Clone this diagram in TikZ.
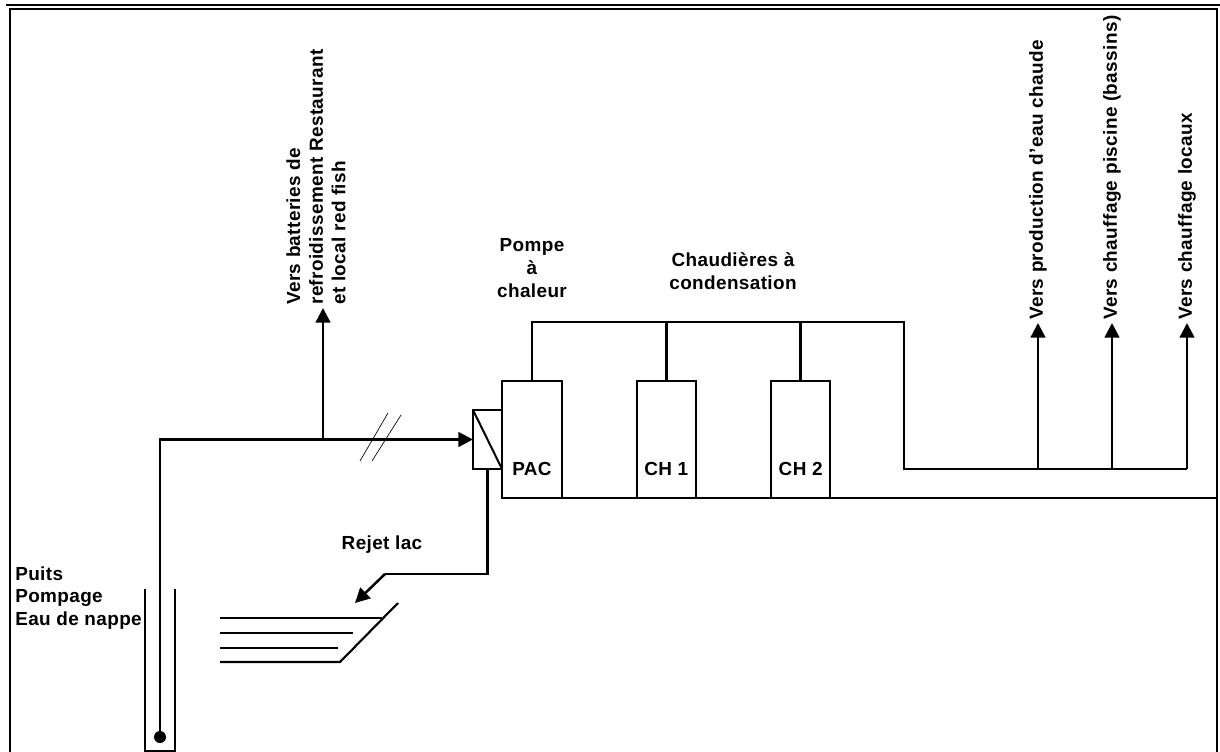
\documentclass[tikz,border=0pt]{standalone}
\usepackage{fontspec}
\setmainfont[LetterSpace=2]{Liberation Sans}
\usepackage{tikz}
\usetikzlibrary{arrows.meta,positioning}

\begin{document}
\begin{tikzpicture}[x=0.75pt, y=-0.75pt, node distance=56.25pt, >={Triangle[length=11pt,width=11pt]}, every node/.style={font=\bfseries\fontsize{14.2}{17}\selectfont}]
\tikzstyle{pipe}=[draw, line width=1.9pt]
\tikzstyle{unit}=[draw, line width=1.7pt, minimum width=44.5pt, minimum height=87.75pt, inner sep=0pt, outer sep=0pt]
\tikzstyle{txt}=[inner sep=0pt, align=left]
\tikzstyle{vtxt}=[txt, rotate=90, anchor=west]
\useasboundingbox (0,0) rectangle (1220,752);
\fill[white] (0,0) rectangle (1220,752);

% frame
\draw[line width=1.8pt] (6,5) -- (1220,5);
\draw[line width=1.8pt] (10,752) -- (10,9) -- (1217,9) -- (1217,752);

% boilers
\node[unit] (pac) at (532,439.5) {};
\node[unit, right=of pac] (chun) {};
\node[unit, right=of chun] (chdeux) {};
\node[txt, above=21.75pt of pac.south, anchor=center] (pactxt) {PAC};
\node[txt, above=21.75pt of chun.south, anchor=center] (chuntxt) {CH 1};
\node[txt, above=21.75pt of chdeux.south, anchor=center] (chdeuxtxt) {CH 2};
\node[unit, minimum width=21.75pt, minimum height=44.25pt] (hx) at (487.5,439.5) {};
\draw[line width=1.5pt] (hx.north west) -- (hx.south east);

% collectors
\coordinate (tl) at (532,322);
\coordinate (tr) at (904,322);
\coordinate (br) at (904,469);
\coordinate (a) at (1038,469);
\coordinate (b) at (1112,469);
\coordinate (c) at (1187,469);
\coordinate (ae) at (1038,323);
\coordinate (be) at (1112,323);
\coordinate (ce) at (1187,323);
\coordinate (ret) at (1217,498);
\draw[pipe] (pac.north) -- (tl) -- (tr) -- (br) -- (c);
\draw[pipe] (chun.north) -- (chun.north |- tl);
\draw[pipe] (chdeux.north) -- (chdeux.north |- tl);
\draw[pipe] (pac.south west) -- (pac.south west -| ret);
\draw[pipe, ->] (a) -- (ae);
\draw[pipe, ->] (b) -- (be);
\draw[pipe, ->] (c) -- (ce);

% well and feed
\node[circle, fill, minimum size=9pt, inner sep=0pt] (dot) at (160,737) {};
\coordinate (cnr) at (160,439.5);
\coordinate (tee) at (323,439.5);
\coordinate (up) at (323,308);
\draw[pipe] (dot) -- (cnr) -- (tee);
\draw[pipe, ->] (tee) -- (hx.west);
\draw[pipe, ->] (tee) -- (up);
\draw[line width=1.7pt] (145,589) -- (145,751) -- (175,751) -- (175,589);
\draw[line width=.5pt] (360,461) -- (388,413);
\draw[line width=.5pt] (372,461) -- (401,415);

% lake
\coordinate (rk) at (385,574);
\coordinate (rl) at (355,603);
\draw[pipe] (hx.south) |- (rk);
\draw[pipe, ->] (rk) -- (rl);
\draw[line width=1.6pt] (220,662) -- (340,662) -- (398,603);
\draw[line width=.9pt] (220,618) -- (382,618);
\draw[line width=.9pt] (220,633) -- (353,633);
\draw[line width=.9pt] (220,648) -- (338,648);

% labels
\node[vtxt] (resto) at (316,305) {Vers batteries de\\refroidissement Restaurant\\et local red fish};
\node[vtxt] (eau) at (1038,320) {Vers production d’eau chaude};
\node[vtxt] (pisc) at (1112,320) {Vers chauffage piscine (bassins)};
\node[vtxt] (loc) at (1187,320) {Vers chauffage locaux};
\node[txt, align=center] (pompe) at (532,268) {Pompe\\à\\chaleur};
\node[txt, align=center] (chaud) at (733,271) {Chaudières à\\condensation};
\node[txt] (rejet) at (382,544.5) {Rejet lac};
\node[txt, anchor=west] (puits) at (15,598) {Puits\\Pompage\\Eau de nappe};
\end{tikzpicture}
\end{document}
